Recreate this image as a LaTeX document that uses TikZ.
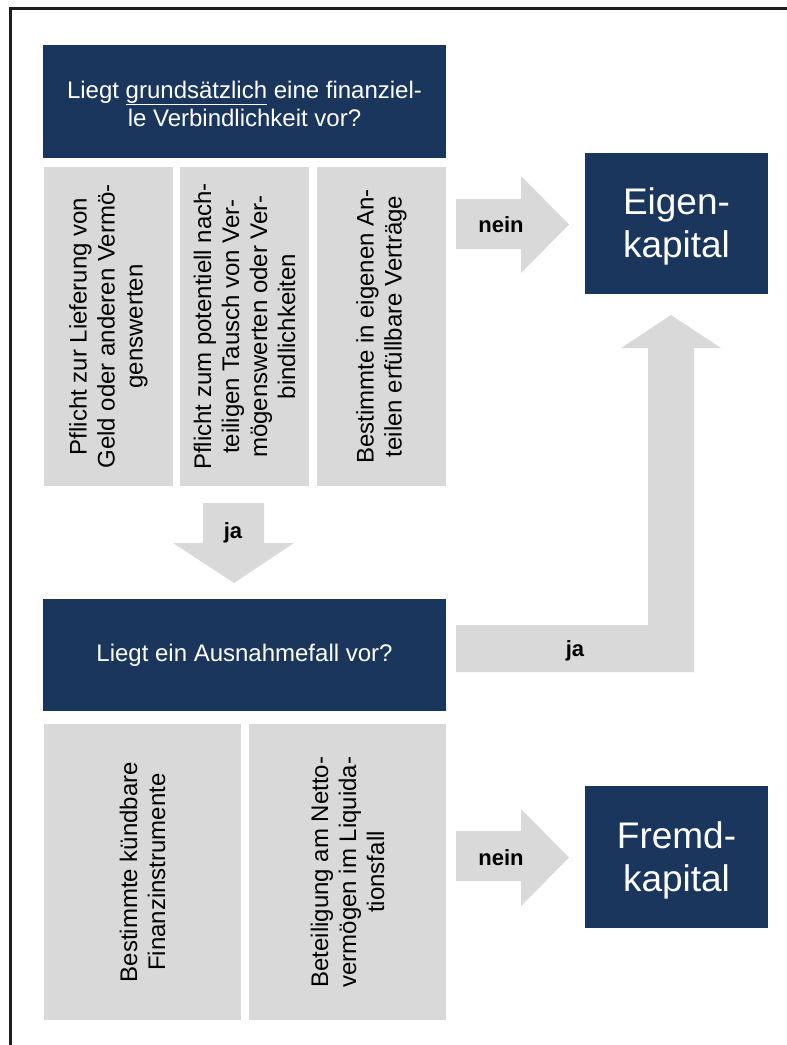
\documentclass[tikz,border=0pt]{standalone}
\usepackage{fontspec}
\setmainfont{Liberation Sans}
\definecolor{navy}{RGB}{26,54,93}
\definecolor{lgray}{RGB}{217,217,217}
\definecolor{framec}{RGB}{30,30,30}
\begin{document}
\begin{tikzpicture}[x=1pt,y=-1pt,
  navybox/.style={fill=navy, text=white, inner sep=0pt, align=center},
  qfont/.style={font=\fontsize{24}{28}\selectfont},
  bigfont/.style={font=\fontsize{37}{43}\selectfont},
  graybox/.style={fill=lgray, inner sep=0pt, align=center, rotate=90, font=\fontsize{24}{28}\selectfont},
  blockarrow/.style={fill=lgray},
  arrowlabel/.style={font=\bfseries\fontsize{22}{26}\selectfont, inner sep=0pt}]
\useasboundingbox (0,0) rectangle (787,1045);
\begin{scope}
  \clip (0,0) rectangle (787,1045);
  \draw[line width=2.2pt, draw=framec] (10.5,8.5) rectangle (830,1090);
\end{scope}

% question boxes
\node[navybox, qfont, minimum width=403, minimum height=113] (q1) at (244.5,101.5)
  {\rule{0pt}{21.5pt}Liegt \underline{grundsätzlich} eine finanziel-\\le Verbindlichkeit vor?};
\node[navybox, qfont, minimum width=403, minimum height=112] (q2) at (244.5,655)
  {Liegt ein Ausnahmefall vor?};

% result boxes
\node[navybox, bigfont, minimum width=183, minimum height=141] (ek) at (676.5,223.5)
  {\rule{0pt}{33pt}Eigen-\\kapital};
\node[navybox, bigfont, minimum width=183, minimum height=142] (fk) at (676.5,857)
  {\rule{0pt}{33pt}Fremd-\\kapital};

% criteria boxes (top)
\node[graybox, minimum width=319, minimum height=129] (c1) at (108.5,326.5)
  {Pflicht zur Lieferung von\\Geld oder anderen Vermö-\\genswerten};
\node[graybox, minimum width=319, minimum height=129] (c2) at (244.5,326.5)
  {Pflicht zum potentiell nach-\\teiligen Tausch von Ver-\\mögenswerten oder Ver-\\bindlichkeiten};
\node[graybox, minimum width=319, minimum height=129] (c3) at (381.5,326.5)
  {Bestimmte in eigenen An-\\teilen erfüllbare Verträge};

% exception boxes (bottom)
\node[graybox, minimum width=296, minimum height=197] (e1) at (142.5,872)
  {Bestimmte kündbare\\Finanzinstrumente};
\node[graybox, minimum width=296, minimum height=197] (e2) at (347.5,872)
  {Beteiligung am Netto-\\vermögen im Liquida-\\tionsfall};

% block arrows
\fill[blockarrow] (456,199) -- (521,199) -- (521,176) -- (569,224.5) -- (521,273) -- (521,249) -- (456,249) -- cycle;
\node[arrowlabel] (n1) at (501,225) {nein};

\fill[blockarrow] (456,831) -- (521,831) -- (521,809) -- (569,857.5) -- (521,906) -- (521,881) -- (456,881) -- cycle;
\node[arrowlabel] (n2) at (501,858) {nein};

\fill[blockarrow] (203,503) -- (264,503) -- (264,543) -- (294,543) -- (234,583) -- (173,543) -- (203,543) -- cycle;
\node[arrowlabel] (j1) at (233,533) {ja};

\fill[blockarrow] (456,625) -- (648,625) -- (648,348) -- (621,348) -- (671,315) -- (721,348) -- (694,348) -- (694,672) -- (456,672) -- cycle;
\node[arrowlabel] (j2) at (575,651) {ja};
\end{tikzpicture}
\end{document}
